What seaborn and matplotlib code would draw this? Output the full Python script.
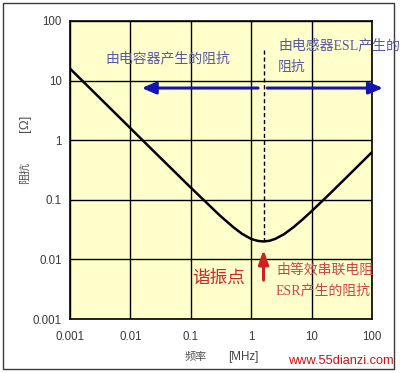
import numpy as np
import pandas as pd
import matplotlib
matplotlib.use("Agg")
import matplotlib.pyplot as plt
import seaborn as sns
from matplotlib.patches import Rectangle

# ---- data ----
freq_mhz = [0.001, 0.003, 0.01, 0.03, 0.1, 0.3, 0.5, 0.7, 1.0, 1.3, 1.6,
            2.0, 2.5, 3.5, 5.0, 7.0, 10.0, 20.0, 30.0, 100.0]
impedance = [15.9, 5.3, 1.59, 0.53, 0.16, 0.055, 0.035, 0.027, 0.022, 0.0204,
             0.020, 0.0205, 0.0221, 0.0265, 0.0346, 0.0463, 0.0644, 0.126,
             0.189, 0.63]
tick_vals = [0.001, 0.01, 0.1, 1, 10, 100]
tick_labels = ["0.001", "0.01", "0.1", "1", "10", "100"]
resonance_f = 1.6

df = pd.DataFrame({"f": freq_mhz, "z": impedance})

sns.set_theme(style="white")
plt.rcParams["font.family"] = ["Liberation Sans", "Noto Sans CJK SC", "DejaVu Sans"]
CJK = ["Noto Sans CJK SC", "DejaVu Sans"]
CJKL = ["Liberation Serif", "Noto Sans CJK SC", "DejaVu Sans"]

fig = plt.figure(figsize=(4.03, 3.73), dpi=100, facecolor="white")
fig.patches.append(Rectangle((3 / 403, 1 - 369 / 373), 391 / 403, 366 / 373,
                             transform=fig.transFigure, fill=False,
                             edgecolor="#3a3a3a", linewidth=1.0, zorder=0))
ax = fig.add_axes([70 / 403, 1 - 319 / 373, 302 / 403, 298 / 373])
ax.set_facecolor("#FFFFCC")

sns.lineplot(data=df, x="f", y="z", ax=ax, color="black", linewidth=1.8,
             zorder=3)
ax.set_xscale("log")
ax.set_yscale("log")
ax.set_xlim(0.001, 100)
ax.set_ylim(0.001, 100)
ax.set_xticks(tick_vals)
ax.set_xticklabels(tick_labels)
ax.set_yticks(tick_vals)
ax.set_yticklabels(tick_labels)
ax.minorticks_off()
ax.set_xlabel("")
ax.set_ylabel("")
ax.grid(True, color="black", linewidth=1.0)
for s in ax.spines.values():
    s.set_color("black")
    s.set_linewidth(1.2)
ax.tick_params(axis="both", colors="#aaaaaa", labelcolor="#3a3a3a",
               labelsize=8.3, length=3, width=1, direction="out")
ax.tick_params(axis="x", pad=9, length=0)
ax.tick_params(axis="y", pad=3)

# dashed resonance line
ax.plot([resonance_f, resonance_f], [32, 0.018], linestyle=(0, (3, 2)),
        color="black", linewidth=1.0, zorder=2)

# blue arrows
blue = "#1414B4"
ax.annotate("", xy=(0.0154, 7.5), xytext=(1.3, 7.5),
            arrowprops=dict(arrowstyle="-|>,head_length=0.7,head_width=0.3",
                            color=blue, lw=2.2, shrinkA=0, shrinkB=0),
            annotation_clip=False)
ax.annotate("", xy=(152, 7.5), xytext=(1.85, 7.5),
            arrowprops=dict(arrowstyle="-|>,head_length=0.7,head_width=0.3",
                            color=blue, lw=2.2, shrinkA=0, shrinkB=0),
            annotation_clip=False)
# red arrow
ax.annotate("", xy=(resonance_f, 0.0145), xytext=(resonance_f, 0.0045),
            arrowprops=dict(arrowstyle="-|>,head_length=0.7,head_width=0.25",
                            color="#CC2222", lw=2.2, shrinkA=0, shrinkB=0),
            annotation_clip=False)

def ftext(x, y, s, **kw):
    fig.text(x / 403, 1 - y / 373, s, **kw)

txt_blue = "#5858A8"
ftext(105, 58, "由电容器产生的阻抗", color=txt_blue, fontsize=10,
      family=CJK, va="center", ha="left")
ftext(278, 46, "由电感器ESL产生的", color=txt_blue, fontsize=10,
      family=CJKL, va="center", ha="left")
ftext(278, 67, "阻抗", color=txt_blue, fontsize=10,
      family=CJK, va="center", ha="left")

ftext(192, 278, "谐振点", color="#D02828", fontsize=12.7,
      family=CJK, va="center", ha="left")
ftext(276, 270, "由等效串联电阻", color="#C84848", fontsize=10,
      family=CJK, va="center", ha="left")
ftext(276, 290, "ESR产生的阻抗", color="#C84848", fontsize=10,
      family=CJKL, va="center", ha="left")

ftext(196, 357, "频率", color="#505050", fontsize=8, family=CJK,
      va="center", ha="center")
ftext(243, 357, "[MHz]", color="#404040", fontsize=8.3, va="center",
      ha="center")
ftext(25, 123, "[Ω]", color="#505050", fontsize=9.5, rotation=90,
      va="center", ha="center")
ftext(25, 173, "阻抗", color="#505050", fontsize=8, family=CJK,
      rotation=90, va="center", ha="center")
ftext(341, 361, "www.55dianzi.com", color="#CC1010", fontsize=9.2,
      va="center", ha="center")

fig.savefig("out.png", dpi=100, facecolor="white")
